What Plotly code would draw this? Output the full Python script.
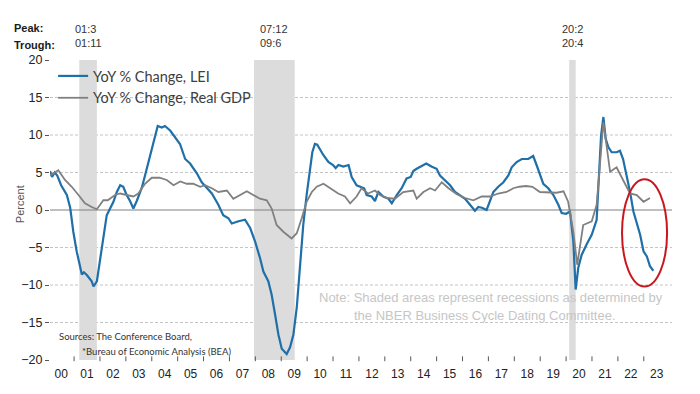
import plotly.graph_objects as go

# ---------------- data ----------------
lei_x = [2000.07, 2000.15, 2000.25, 2000.35, 2000.5, 2000.72, 2000.85, 2000.97, 2001.1, 2001.23,
         2001.3, 2001.38, 2001.5, 2001.68, 2001.75, 2001.88, 2002.0, 2002.13, 2002.26, 2002.39,
         2002.52, 2002.65, 2002.78, 2002.9, 2003.03, 2003.16, 2003.29, 2003.42, 2003.61, 2003.74,
         2003.87, 2004.0, 2004.13, 2004.23, 2004.39, 2004.51, 2004.71, 2004.9, 2005.09, 2005.29,
         2005.48, 2005.74, 2005.93, 2006.06, 2006.32, 2006.57, 2006.76, 2006.96, 2007.09, 2007.35,
         2007.6, 2007.8, 2007.99, 2008.18, 2008.31, 2008.5, 2008.63, 2008.76, 2008.89, 2009.02,
         2009.21, 2009.34, 2009.47, 2009.6, 2009.73, 2009.85, 2009.98, 2010.11, 2010.2, 2010.3,
         2010.39, 2010.63, 2010.82, 2011.0, 2011.1, 2011.21, 2011.4, 2011.6, 2011.72, 2011.91,
         2012.1, 2012.2, 2012.3, 2012.49, 2012.62, 2012.75, 2012.94, 2013.14, 2013.27, 2013.46,
         2013.65, 2013.84, 2014.0, 2014.1, 2014.23, 2014.4, 2014.6, 2014.8, 2015.0, 2015.13,
         2015.32, 2015.52, 2015.71, 2015.9, 2016.1, 2016.29, 2016.48, 2016.61, 2016.75, 2016.93,
         2017.06, 2017.19, 2017.38, 2017.58, 2017.77, 2017.9, 2018.09, 2018.29, 2018.54, 2018.73,
         2018.86, 2018.99, 2019.12, 2019.31, 2019.51, 2019.7, 2019.83, 2020.0, 2020.15, 2020.28,
         2020.37, 2020.47, 2020.6, 2020.79, 2020.99, 2021.18, 2021.24, 2021.35, 2021.44, 2021.53,
         2021.63, 2021.76, 2021.95, 2022.08, 2022.2, 2022.34, 2022.47, 2022.6, 2022.73, 2022.86,
         2022.99, 2023.12, 2023.24, 2023.37]
lei_y = [5.2, 4.4, 5.0, 4.6, 3.3, 2.0, 0.3, -2.9, -5.5, -7.3,
         -8.6, -8.3, -8.7, -9.5, -10.2, -9.5, -6.8, -4.2, -0.7, 0.2,
         1.1, 2.4, 3.3, 3.1, 2.0, 1.2, 0.2, 1.2, 2.9, 4.6,
         6.4, 8.2, 9.9, 11.2, 11.0, 11.2, 10.6, 9.7, 8.8, 6.8,
         6.2, 4.9, 3.7, 3.2, 2.2, 0.7, -0.7, -1.1, -1.8, -1.5,
         -1.3, -2.4, -4.2, -6.4, -8.2, -9.5, -11.3, -13.9, -16.6, -18.5,
         -19.2, -18.3, -16.6, -13.0, -7.7, -2.0, 2.0, 5.1, 7.7, 8.8,
         8.7, 7.3, 6.4, 6.0, 5.6, 6.0, 5.8, 6.0, 4.4, 3.3,
         3.0, 2.9, 2.0, 1.8, 1.2, 2.4, 1.8, 1.5, 0.9, 2.0,
         2.9, 4.2, 4.4, 5.2, 5.5, 5.8, 6.2, 5.8, 5.5, 4.6,
         4.0, 3.3, 2.4, 2.0, 1.5, 0.7, -0.1, 0.4, 0.3, 0.0,
         1.1, 2.4, 3.1, 3.7, 4.6, 5.7, 6.4, 6.8, 6.8, 7.2,
         6.0, 4.6, 3.5, 2.9, 2.0, 0.7, -0.4, -0.5, -0.2, -4.2,
         -10.6, -7.7, -6.0, -4.6, -3.3, -1.3, 2.9, 9.9, 12.4, 9.5,
         8.4, 7.7, 7.7, 7.9, 6.8, 4.6, 2.4, -0.2, -1.8, -3.3,
         -5.5, -6.2, -7.5, -8.1]

gdp_x = [2000.07, 2000.39, 2000.65, 2000.91, 2001.17, 2001.42, 2001.68, 2001.88, 2002.13, 2002.3,
         2002.58, 2002.78, 2003.03, 2003.29, 2003.48, 2003.74, 2004.0, 2004.3, 2004.58, 2004.84,
         2005.1, 2005.35, 2005.6, 2005.87, 2006.06, 2006.32, 2006.57, 2006.9, 2007.15, 2007.41,
         2007.67, 2007.92, 2008.18, 2008.44, 2008.63, 2008.82, 2009.08, 2009.4, 2009.6, 2009.79,
         2009.98, 2010.18, 2010.37, 2010.63, 2010.88, 2011.2, 2011.46, 2011.66, 2011.91, 2012.1,
         2012.35, 2012.62, 2012.81, 2013.07, 2013.39, 2013.71, 2014.1, 2014.23, 2014.49, 2014.75,
         2014.94, 2015.2, 2015.46, 2015.78, 2016.1, 2016.42, 2016.74, 2017.06, 2017.38, 2017.7,
         2017.96, 2018.2, 2018.45, 2018.7, 2018.99, 2019.31, 2019.63, 2019.9, 2020.08, 2020.28,
         2020.43, 2020.66, 2020.99, 2021.18, 2021.44, 2021.7, 2021.95, 2022.2, 2022.47, 2022.73,
         2022.99, 2023.24]
gdp_y = [4.6, 5.3, 4.0, 3.1, 2.0, 0.9, 0.4, 0.1, 1.3, 1.3,
         2.0, 2.2, 2.0, 1.8, 2.2, 3.5, 4.3, 4.3, 4.0, 3.3,
         3.8, 3.5, 3.5, 3.1, 3.3, 2.9, 2.4, 2.6, 1.5, 2.0,
         2.5, 2.0, 1.5, 1.3, 0.2, -2.0, -2.9, -3.8, -3.1, -1.1,
         1.1, 2.4, 3.1, 3.5, 2.9, 2.2, 1.8, 0.9, 1.8, 2.9,
         2.2, 2.6, 2.0, 1.6, 1.5, 2.4, 2.6, 1.5, 2.4, 2.9,
         2.6, 3.7, 2.9, 2.1, 1.6, 1.3, 1.8, 1.8, 2.2, 2.4,
         2.9, 3.1, 3.2, 3.1, 2.4, 2.3, 2.3, 2.5, 1.1, -2.9,
         -7.3, -2.0, -1.5, 0.7, 11.7, 5.1, 5.7, 4.0, 2.2, 2.0,
         1.1, 1.6]

rec_start = [2001.2, 2007.95, 2020.12]
rec_end = [2001.88, 2009.52, 2020.37]
rec_peak_lbl = ["01:3", "07:12", "20:2"]
rec_trough_lbl = ["01:11", "09:6", "20:4"]

year_ticks = list(range(2000, 2024))
year_lbls = [f"{y % 100:02d}" for y in year_ticks]
y_ticks = [-20, -15, -10, -5, 0, 5, 10, 15, 20]
grid_vals = [-15, -10, -5, 5, 10, 15]

AX_FONT = "Liberation Sans, Arial, sans-serif"
LEG_FONT = "Lato, Open Sans, sans-serif"

fig = go.Figure()
fig.add_trace(go.Scatter(x=lei_x, y=lei_y, mode="lines", name="YoY % Change, LEI",
                         line=dict(color="#1f6fa8", width=2.2), legendgroup="a"))
fig.add_trace(go.Scatter(x=gdp_x, y=gdp_y, mode="lines", name="YoY % Change, Real GDP",
                         line=dict(color="#808080", width=1.8), legendgroup="b"))

# gridlines
for g in grid_vals:
    fig.add_shape(type="line", xref="paper", x0=0, x1=1, yref="y", y0=g, y1=g,
                  line=dict(color="#c4c4c4", width=1, dash="3px,2px"), layer="below")
# recession shading
for s, e in zip(rec_start, rec_end):
    fig.add_shape(type="rect", xref="x", x0=s, x1=e, yref="paper", y0=0, y1=1,
                  fillcolor="#dcdcdc", line=dict(width=0), layer="below")
# zero line
fig.add_shape(type="line", xref="paper", x0=0, x1=1, yref="y", y0=0, y1=0,
              line=dict(color="#808080", width=1.2), layer="below")
# year boundary tick marks
for yb in year_ticks[1:]:
    fig.add_shape(type="line", xref="x", x0=yb, x1=yb, yref="paper", y0=-0.004, y1=0.012,
                  line=dict(color="#555555", width=1))

# red ellipse highlight
fig.add_shape(type="circle", xref="x", yref="y", x0=2022.16, x1=2023.9, y0=-10.2, y1=4.1,
              line=dict(color="#c8181e", width=2))

# y axis title
fig.add_annotation(text="Percent", xref="paper", yref="paper", x=-0.048, y=0.52,
                   xanchor="center", yanchor="middle", textangle=-90, showarrow=False,
                   font=dict(family=AX_FONT, size=11, color="#555555"))

# top peak / trough labels
fig.add_annotation(text="<b>Peak:</b>", xref="paper", yref="paper", x=-0.061, y=1.1067,
                   xanchor="left", yanchor="middle", showarrow=False,
                   font=dict(family=AX_FONT, size=11, color="#1a1a1a"))
fig.add_annotation(text="<b>Trough:</b>", xref="paper", yref="paper", x=-0.061, y=1.05,
                   xanchor="left", yanchor="middle", showarrow=False,
                   font=dict(family=AX_FONT, size=11, color="#1a1a1a"))
for s, e, p, t in zip(rec_start, rec_end, rec_peak_lbl, rec_trough_lbl):
    fig.add_annotation(text=f"{p}<br>{t}", xref="x", yref="paper", x=(s + e) / 2, y=1.08,
                       xanchor="center", yanchor="middle", align="left", showarrow=False,
                       font=dict(family=AX_FONT, size=11, color="#333333"))

# note
fig.add_annotation(text="Note: Shaded areas represent recessions as determined by",
                   xref="paper", yref="paper", x=0.709, y=0.21, xanchor="center", yanchor="middle",
                   showarrow=False, font=dict(family=AX_FONT, size=13, color="#c6c6c6"))
fig.add_annotation(text="the NBER Business Cycle Dating Committee.",
                   xref="paper", yref="paper", x=0.699, y=0.15, xanchor="center", yanchor="middle",
                   showarrow=False, font=dict(family=AX_FONT, size=13, color="#c6c6c6"))
# sources
fig.add_annotation(text="Sources: The Conference Board,",
                   xref="paper", yref="paper", x=0.0113, y=0.0767, xanchor="left", yanchor="middle",
                   showarrow=False, font=dict(family=LEG_FONT, size=9.5, color="#333333"))
fig.add_annotation(text="*Bureau of Economic Analysis (BEA)",
                   xref="paper", yref="paper", x=0.048, y=0.03, xanchor="left", yanchor="middle",
                   showarrow=False, font=dict(family=LEG_FONT, size=9.5, color="#333333"))

fig.update_layout(
    width=700, height=394,
    margin=dict(l=50, r=28, t=60, b=34),
    paper_bgcolor="white", plot_bgcolor="white",
    showlegend=True,
    legend=dict(x=0.005, y=1.0, xanchor="left", yanchor="top", bgcolor="rgba(0,0,0,0)",
                font=dict(family=LEG_FONT, size=14.5, color="#404040"), itemwidth=30,
                tracegroupgap=0),
    xaxis=dict(range=[2000.07, 2024.09], showgrid=False, zeroline=False, showline=False,
               automargin=False, ticklabelstandoff=5,
               tickmode="array", tickvals=[y + 0.5 for y in year_ticks], ticktext=year_lbls,
               ticks="", tickfont=dict(family=AX_FONT, size=12, color="#222222")),
    yaxis=dict(range=[-20, 20], showgrid=False, zeroline=False, showline=False,
               automargin=False,
               tickmode="array", tickvals=y_ticks, ticks="outside", ticklen=4,
               tickcolor="#555555", tickfont=dict(family=AX_FONT, size=12.5, color="#222222")),
)

fig.write_html("out.html", config={"displayModeBar": False},
               post_script="document.body.style.margin='0px';")
